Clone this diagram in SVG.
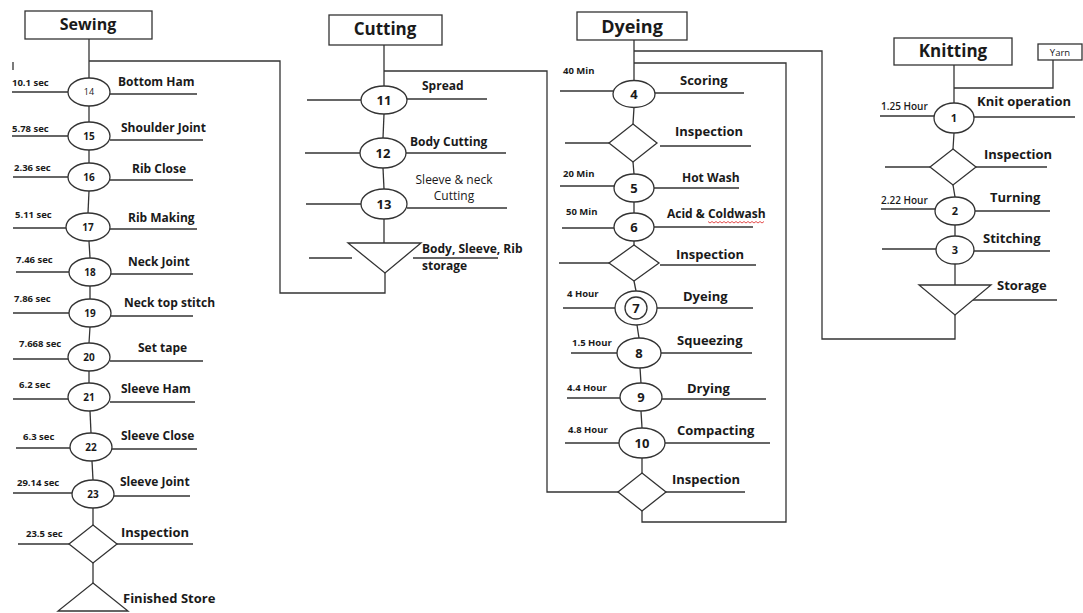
<svg xmlns="http://www.w3.org/2000/svg" width="1083" height="613" viewBox="0 0 1083 613">
<style>
text{font-family:"Open Sans","Liberation Sans",sans-serif;fill:#1a1a1a}
.ln{stroke:#333;stroke-width:1.3;fill:none}
.sh{stroke:#333;stroke-width:1.3;fill:#fff}
.hd{font-weight:700;text-anchor:middle}
.lb{font-weight:700;font-size:12px}
.lb13{font-weight:700;font-size:13px}
.tm{font-weight:700;font-size:9.5px}
.tmk{font-weight:600;font-size:10px}
.num{font-weight:700;text-anchor:middle}
</style>
<rect width="1083" height="613" fill="#fff"/>

<g id="connectors" class="ln">
  <line x1="89" y1="39" x2="89" y2="78"/>
  <polyline points="89,61 280,61 280,293 385,293 385,273"/>
  <line x1="89" y1="106" x2="89" y2="122"/>
  <line x1="89" y1="150" x2="89" y2="163"/>
  <line x1="89" y1="191" x2="88" y2="213"/>
  <line x1="89" y1="241" x2="90" y2="258"/>
  <line x1="90" y1="286" x2="90" y2="299"/>
  <line x1="90" y1="327" x2="89" y2="343"/>
  <line x1="89" y1="371" x2="89" y2="383"/>
  <line x1="90" y1="411" x2="91" y2="433"/>
  <line x1="92" y1="461" x2="93" y2="480"/>
  <line x1="93" y1="508" x2="93" y2="525"/>
  <line x1="93" y1="563" x2="93" y2="583"/>
  <line x1="13" y1="62" x2="13" y2="70"/>
  <line x1="384" y1="45" x2="384" y2="86"/>
  <polyline points="384,71 547,71 547,492 618,492"/>
  <line x1="384" y1="114" x2="383" y2="138"/>
  <line x1="383" y1="168" x2="384" y2="189"/>
  <line x1="384" y1="219" x2="384" y2="243"/>
  <line x1="634" y1="40" x2="634" y2="80"/>
  <polyline points="634,51 822,51 822,339 955,339 955,315"/>
  <polyline points="634,63 786,63 786,522 642,522 642,511"/>
  <line x1="634" y1="107" x2="633" y2="124"/>
  <line x1="633" y1="162" x2="634" y2="174"/>
  <line x1="634" y1="202" x2="634" y2="213"/>
  <line x1="634" y1="241" x2="634" y2="245"/>
  <line x1="634" y1="281" x2="636" y2="291"/>
  <line x1="637" y1="325" x2="639" y2="338"/>
  <line x1="640" y1="368" x2="641" y2="383"/>
  <line x1="641" y1="411" x2="642" y2="428"/>
  <line x1="642" y1="458" x2="642" y2="473"/>
  <line x1="954" y1="65" x2="954" y2="103"/>
  <polyline points="1053,60 1053,88 954,88"/>
  <line x1="954" y1="133" x2="953" y2="149"/>
  <line x1="953" y1="185" x2="955" y2="197"/>
  <line x1="955" y1="225" x2="955" y2="236"/>
  <line x1="955" y1="264" x2="955" y2="285"/>
</g>

<g id="sewing-header">
  <rect x="25" y="11" width="127" height="28" class="sh"/>
  <text x="88" y="30" class="hd" font-size="16">Sewing</text>
</g>
<g id="op14">
  <line x1="12" y1="92" x2="68" y2="92" class="ln"/><line x1="110" y1="94" x2="197" y2="94" class="ln"/>
  <ellipse cx="89" cy="92" rx="21" ry="14" class="sh"/>
  <text x="89" y="95" text-anchor="middle" font-size="9">14</text>
  <text x="12" y="86" class="tm">10.1 sec</text>
  <text x="118" y="86" class="lb">Bottom Ham</text>
</g>
<g id="op15">
  <line x1="12" y1="136" x2="68" y2="136" class="ln"/><line x1="110" y1="140" x2="203" y2="140" class="ln"/>
  <ellipse cx="89" cy="136" rx="21" ry="14" class="sh"/>
  <text x="89" y="140" class="num" font-size="10">15</text>
  <text x="12" y="132" class="tm">5.78 sec</text>
  <text x="121" y="132" class="lb">Shoulder Joint</text>
</g>
<g id="op16">
  <line x1="13" y1="177" x2="68" y2="177" class="ln"/><line x1="110" y1="180" x2="193" y2="180" class="ln"/>
  <ellipse cx="89" cy="177" rx="21" ry="14" class="sh"/>
  <text x="89" y="181" class="num" font-size="10">16</text>
  <text x="14" y="171" class="tm">2.36 sec</text>
  <text x="132" y="173" class="lb">Rib Close</text>
</g>
<g id="op17">
  <line x1="13" y1="228" x2="66" y2="228" class="ln"/><line x1="110" y1="229" x2="197" y2="229" class="ln"/>
  <ellipse cx="88" cy="227" rx="22" ry="14" class="sh"/>
  <text x="88" y="231" class="num" font-size="10">17</text>
  <text x="15" y="218" class="tm">5.11 sec</text>
  <text x="128" y="222" class="lb">Rib Making</text>
</g>
<g id="op18">
  <line x1="16" y1="272" x2="69" y2="272" class="ln"/><line x1="111" y1="274" x2="193" y2="274" class="ln"/>
  <ellipse cx="90" cy="272" rx="21" ry="14" class="sh"/>
  <text x="90" y="276" class="num" font-size="10">18</text>
  <text x="16" y="263" class="tm">7.46 sec</text>
  <text x="128" y="266" class="lb">Neck Joint</text>
</g>
<g id="op19">
  <line x1="13" y1="313" x2="69" y2="313" class="ln"/><line x1="111" y1="316" x2="193" y2="316" class="ln"/>
  <ellipse cx="90" cy="313" rx="21" ry="14" class="sh"/>
  <text x="90" y="317" class="num" font-size="10">19</text>
  <text x="14" y="302" class="tm">7.86 sec</text>
  <text x="124" y="307" class="lb">Neck top stitch</text>
</g>
<g id="op20">
  <line x1="13" y1="359" x2="68" y2="359" class="ln"/><line x1="110" y1="361" x2="203" y2="361" class="ln"/>
  <ellipse cx="89" cy="357" rx="21" ry="14" class="sh"/>
  <text x="89" y="361" class="num" font-size="10">20</text>
  <text x="19" y="347" class="tm">7.668 sec</text>
  <text x="138" y="352" class="lb">Set tape</text>
</g>
<g id="op21">
  <line x1="13" y1="399" x2="68" y2="399" class="ln"/><line x1="110" y1="402" x2="195" y2="402" class="ln"/>
  <ellipse cx="89" cy="397" rx="21" ry="14" class="sh"/>
  <text x="89" y="401" class="num" font-size="10">21</text>
  <text x="19" y="388" class="tm">6.2 sec</text>
  <text x="121" y="393" class="lb">Sleeve Ham</text>
</g>
<g id="op22">
  <line x1="16" y1="448" x2="70" y2="448" class="ln"/><line x1="112" y1="449" x2="197" y2="449" class="ln"/>
  <ellipse cx="91" cy="447" rx="21" ry="14" class="sh"/>
  <text x="91" y="451" class="num" font-size="10">22</text>
  <text x="23" y="440" class="tm">6.3 sec</text>
  <text x="121" y="440" class="lb">Sleeve Close</text>
</g>
<g id="op23">
  <line x1="13" y1="493" x2="72" y2="493" class="ln"/><line x1="114" y1="496" x2="190" y2="496" class="ln"/>
  <ellipse cx="93" cy="494" rx="21" ry="14" class="sh"/>
  <text x="93" y="498" class="num" font-size="10">23</text>
  <text x="17" y="486" class="tm">29.14 sec</text>
  <text x="120" y="486" class="lb">Sleeve Joint</text>
</g>
<g id="sew-inspection">
  <line x1="18" y1="544" x2="69" y2="544" class="ln"/><line x1="117" y1="544" x2="193" y2="544" class="ln"/>
  <polygon points="93,525 117,544 93,563 69,544" class="sh"/>
  <text x="26" y="537" class="tm">23.5 sec</text>
  <text x="121" y="537" class="lb13">Inspection</text>
</g>
<g id="finished-store">
  <polygon points="93,583 128,611 58,611" class="sh"/>
  <text x="123" y="603" class="lb13">Finished Store</text>
</g>

<g id="cutting-header">
  <rect x="329" y="15" width="113" height="30" class="sh"/>
  <text x="385" y="35" class="hd" font-size="17">Cutting</text>
</g>
<g id="op11">
  <line x1="307" y1="100" x2="361" y2="100" class="ln"/><line x1="407" y1="99" x2="487" y2="99" class="ln"/>
  <ellipse cx="384" cy="100" rx="23" ry="14" class="sh"/>
  <text x="384" y="105" class="num" font-size="13">11</text>
  <text x="422" y="90" class="lb" font-size="14">Spread</text>
</g>
<g id="op12">
  <line x1="305" y1="153" x2="360" y2="153" class="ln"/><line x1="406" y1="153" x2="506" y2="153" class="ln"/>
  <ellipse cx="383" cy="153" rx="23" ry="15" class="sh"/>
  <text x="383" y="158" class="num" font-size="13">12</text>
  <text x="410" y="146" class="lb" font-size="14">Body Cutting</text>
</g>
<g id="op13">
  <line x1="306" y1="204" x2="361" y2="204" class="ln"/><line x1="407" y1="208" x2="507" y2="208" class="ln"/>
  <ellipse cx="384" cy="204" rx="23" ry="15" class="sh"/>
  <text x="384" y="209" class="num" font-size="13">13</text>
  <text x="454" y="184" text-anchor="middle" font-size="12">Sleeve &amp; neck</text>
  <text x="454" y="200" text-anchor="middle" font-size="12">Cutting</text>
</g>
<g id="cut-storage">
  <line x1="309" y1="258" x2="352" y2="258" class="ln"/><line x1="413" y1="258" x2="498" y2="258" class="ln"/>
  <polygon points="348,243 421,243 385,273" class="sh"/>
  <text x="422" y="253" class="lb" font-size="13.5">Body, Sleeve, Rib</text>
  <text x="422" y="270" class="lb" font-size="13.5">storage</text>
</g>

<g id="dyeing-header">
  <rect x="577" y="12" width="110" height="28" class="sh"/>
  <text x="632" y="33" class="hd" font-size="18">Dyeing</text>
</g>
<g id="op4">
  <line x1="560" y1="91" x2="613" y2="91" class="ln"/><line x1="655" y1="93" x2="744" y2="93" class="ln"/>
  <ellipse cx="634" cy="94" rx="21" ry="13.5" class="sh"/>
  <text x="634" y="99" class="num" font-size="13">4</text>
  <text x="563" y="74" class="tm">40 Min</text>
  <text x="680" y="85" class="lb13">Scoring</text>
</g>
<g id="dye-inspection1">
  <line x1="565" y1="143" x2="609" y2="143" class="ln"/><line x1="660" y1="146" x2="751" y2="146" class="ln"/>
  <polygon points="633,124 657,143 633,162 609,143" class="sh"/>
  <text x="675" y="136" class="lb13">Inspection</text>
</g>
<g id="op5">
  <line x1="560" y1="186" x2="614" y2="186" class="ln"/><line x1="654" y1="188" x2="739" y2="188" class="ln"/>
  <ellipse cx="634" cy="188" rx="20" ry="14" class="sh"/>
  <text x="634" y="193" class="num" font-size="13">5</text>
  <text x="563" y="177" class="tm">20 Min</text>
  <text x="682" y="182" class="lb">Hot Wash</text>
</g>
<g id="op6">
  <line x1="562" y1="228" x2="614" y2="228" class="ln"/><line x1="654" y1="227" x2="753" y2="227" class="ln"/>
  <ellipse cx="634" cy="227" rx="20" ry="14" class="sh"/>
  <text x="634" y="232" class="num" font-size="13">6</text>
  <text x="566" y="215" class="tm">50 Min</text>
  <text x="667" y="218" class="lb">Acid &amp; Coldwash</text>
  <polyline points="708,221.5 710,223 712,221.5 714,223 716,221.5 718,223 720,221.5 722,223 724,221.5 726,223 728,221.5 730,223 732,221.5 734,223 736,221.5 738,223 740,221.5 742,223 744,221.5 746,223 748,221.5 750,223 752,221.5 754,223 756,221.5 758,223 760,221.5 762,223 764,221.5" fill="none" stroke="#d22" stroke-width="0.8"/>
</g>
<g id="dye-inspection2">
  <line x1="559" y1="263" x2="609" y2="263" class="ln"/><line x1="660" y1="265" x2="756" y2="265" class="ln"/>
  <polygon points="634,245 659,263 634,281 609,263" class="sh"/>
  <text x="676" y="259" class="lb13">Inspection</text>
</g>
<g id="op7">
  <line x1="563" y1="308" x2="615" y2="308" class="ln"/><line x1="657" y1="308" x2="753" y2="308" class="ln"/>
  <ellipse cx="636" cy="308" rx="21" ry="17" class="sh"/>
  <circle cx="636" cy="308" r="11" class="sh"/>
  <text x="636" y="313" class="num" font-size="13">7</text>
  <text x="567" y="297" class="tm">4 Hour</text>
  <text x="683" y="301" class="lb13">Dyeing</text>
</g>
<g id="op8">
  <line x1="571" y1="353" x2="617" y2="353" class="ln"/><line x1="661" y1="353" x2="752" y2="353" class="ln"/>
  <ellipse cx="639" cy="353" rx="22" ry="15" class="sh"/>
  <text x="639" y="358" class="num" font-size="13">8</text>
  <text x="572" y="346" class="tm">1.5 Hour</text>
  <text x="677" y="345" class="lb13">Squeezing</text>
</g>
<g id="op9">
  <line x1="567" y1="398" x2="620" y2="398" class="ln"/><line x1="662" y1="399" x2="766" y2="399" class="ln"/>
  <ellipse cx="641" cy="397" rx="21" ry="14" class="sh"/>
  <text x="641" y="402" class="num" font-size="13">9</text>
  <text x="567" y="391" class="tm">4.4 Hour</text>
  <text x="687" y="393" class="lb13">Drying</text>
</g>
<g id="op10">
  <line x1="565" y1="443" x2="619" y2="443" class="ln"/><line x1="665" y1="443" x2="770" y2="443" class="ln"/>
  <ellipse cx="642" cy="443" rx="23" ry="15" class="sh"/>
  <text x="642" y="448" class="num" font-size="13">10</text>
  <text x="568" y="433" class="tm">4.8 Hour</text>
  <text x="677" y="435" class="lb13">Compacting</text>
</g>
<g id="dye-inspection3">
  <line x1="666" y1="492" x2="745" y2="492" class="ln"/>
  <polygon points="642,473 666,492 642,511 618,492" class="sh"/>
  <text x="672" y="484" class="lb13">Inspection</text>
</g>

<g id="knitting-header">
  <rect x="894" y="38" width="118" height="27" class="sh"/>
  <text x="953" y="57" class="hd" font-size="17">Knitting</text>
</g>
<g id="yarn">
  <rect x="1038" y="44" width="44" height="16" class="sh"/>
  <text x="1060" y="56" text-anchor="middle" font-size="9.5">Yarn</text>
</g>
<g id="op1">
  <line x1="880" y1="116" x2="934" y2="116" class="ln"/><line x1="974" y1="117" x2="1075" y2="117" class="ln"/>
  <ellipse cx="954" cy="118" rx="20" ry="15" class="sh"/>
  <text x="954" y="122" class="num" font-size="11">1</text>
  <text x="881" y="110" class="tmk">1.25 Hour</text>
  <text x="977" y="106" class="lb13">Knit operation</text>
</g>
<g id="knit-inspection">
  <line x1="885" y1="167" x2="930" y2="167" class="ln"/><line x1="976" y1="167" x2="1047" y2="167" class="ln"/>
  <polygon points="953,149 976,167 953,185 930,167" class="sh"/>
  <text x="984" y="159" class="lb13">Inspection</text>
</g>
<g id="op2">
  <line x1="881" y1="209" x2="935" y2="209" class="ln"/><line x1="975" y1="211" x2="1050" y2="211" class="ln"/>
  <ellipse cx="955" cy="211" rx="20" ry="14" class="sh"/>
  <text x="955" y="215" class="num" font-size="11">2</text>
  <text x="881" y="204" class="tmk">2.22 Hour</text>
  <text x="990" y="202" class="lb13">Turning</text>
</g>
<g id="op3">
  <line x1="882" y1="249" x2="936" y2="249" class="ln"/><line x1="974" y1="251" x2="1050" y2="251" class="ln"/>
  <ellipse cx="955" cy="250" rx="19" ry="14" class="sh"/>
  <text x="955" y="254" class="num" font-size="11">3</text>
  <text x="983" y="243" class="lb13">Stitching</text>
</g>
<g id="knit-storage">
  <line x1="973" y1="300" x2="1057" y2="300" class="ln"/>
  <polygon points="919,285 991,285 955,315" class="sh"/>
  <text x="997" y="290" class="lb13">Storage</text>
</g>
</svg>
